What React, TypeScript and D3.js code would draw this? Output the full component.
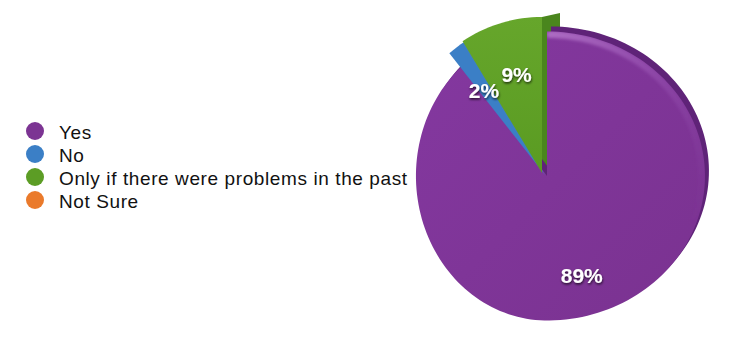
import React from 'react';
import * as d3 from 'd3';

// Survey answers and their shares (percent)
const categories = ['Yes', 'No', 'Only if there were problems in the past', 'Not Sure'];
const shares = [89, 2, 9, 0];
const shareLabels = ['89%', '2%', '9%', '0%'];

// Face and side colours per answer
const palette = ['#7c3493', '#3b7fc6', '#5c9d25', '#ea7a2b'];
const sidePalette = ['#5f2378', '#2c629c', '#4a861d', '#b85a1c'];

const W = 743;
const H = 346;
const center = { x: 546, y: 176 };
const baseR = 144.5;
const labelR = 105.5;

// Placement of each slice face: vertex shift, radius scale, horizontal squash
// left/right of the vertex (the disc is seen slightly turned), and the offset
// of its extruded back side.
const faces = [
  { dx: 1, dy: 0, rs: 1, kL: 0.907, kR: 1.093, side: [4, -5] as [number, number], wall: null as null | [number, number] },
  { dx: -1, dy: -1, rs: 1.093, kL: 0.95, kR: 1, side: null, wall: null },
  { dx: -4, dy: -3, rs: 1.08, kL: 0.95, kR: 1, side: null, wall: [18, -4] as [number, number] },
  { dx: 0, dy: 0, rs: 1, kL: 1, kR: 1, side: null, wall: null },
];

type Pt = [number, number];

function facePoint(a: number, r: number, cx: number, cy: number, kL: number, kR: number): Pt {
  const s = Math.sin(a);
  const c = Math.cos(a);
  return [cx + r * s * (s < 0 ? kL : kR), cy - r * c];
}

const line = d3.line<Pt>();

function wedge(a0: number, a1: number, i: number, shift: Pt = [0, 0]): string {
  const f = faces[i];
  const cx = center.x + f.dx + shift[0];
  const cy = center.y + f.dy + shift[1];
  const r = baseR * f.rs;
  const n = Math.max(2, Math.ceil(((a1 - a0) / (Math.PI * 2)) * 180));
  const pts: Pt[] = [[cx, cy]];
  for (let k = 0; k <= n; k++) {
    const a = a0 + ((a1 - a0) * k) / n;
    pts.push(facePoint(a, r, cx, cy, f.kL, f.kR));
  }
  return (line(pts) ?? '') + 'Z';
}

function rimArc(a0: number, a1: number, i: number, inset: number): string {
  const f = faces[i];
  const cx = center.x + f.dx;
  const cy = center.y + f.dy;
  const r = baseR * f.rs - inset;
  const pts: Pt[] = [];
  const n = 90;
  for (let k = 0; k <= n; k++) {
    const a = a0 + ((a1 - a0) * k) / n;
    pts.push(facePoint(a, r, cx, cy, f.kL, f.kR));
  }
  return line(pts) ?? '';
}

function endWall(a: number, i: number, off: Pt): string {
  const f = faces[i];
  const cx = center.x + f.dx;
  const cy = center.y + f.dy;
  const p = facePoint(a, baseR * f.rs, cx, cy, f.kL, f.kR);
  const pts: Pt[] = [
    [cx, cy],
    p,
    [p[0] + off[0], p[1] + off[1]],
    [cx + off[0], cy + off[1]],
  ];
  return (line(pts) ?? '') + 'Z';
}

export default function App() {
  const arcs = d3
    .pie<number>()
    .sort(null)
    .value((d) => d)(shares);

  const font = '"Liberation Sans", Arial, Helvetica, sans-serif';
  const legendX = 35;
  const legendY = d3.scalePoint<string>().domain(categories).range([131, 200]);

  const visible = arcs.map((a, i) => ({ a, i })).filter(({ a }) => a.endAngle - a.startAngle > 0);
  const yes = arcs[0];

  return (
    <svg
      width={W}
      height={H}
      viewBox={`0 0 ${W} ${H}`}
      style={{ position: 'absolute', left: 0, top: 0, background: '#fff' }}
    >
      <defs>
        <filter id="lblShadow" x="-30%" y="-30%" width="160%" height="180%">
          <feDropShadow dx="0.5" dy="1.5" stdDeviation="1.3" floodColor="#000" floodOpacity="0.75" />
        </filter>
        <filter id="soft" x="-10%" y="-10%" width="120%" height="120%">
          <feGaussianBlur stdDeviation="1.4" />
        </filter>
        <clipPath id="yesClip">
          <path d={wedge(yes.startAngle, yes.endAngle, 0)} />
        </clipPath>
        <linearGradient id="rimGlow" x1="0" y1="0" x2="1" y2="1">
          <stop offset="0" stopColor="#c98fdc" stopOpacity="0.6" />
          <stop offset="0.5" stopColor="#b070cc" stopOpacity="0.25" />
          <stop offset="1" stopColor="#9050b0" stopOpacity="0" />
        </linearGradient>
        <linearGradient id="greenFace" x1="0" y1="0" x2="0" y2="1">
          <stop offset="0" stopColor="#66a62b" />
          <stop offset="1" stopColor="#5a9b22" />
        </linearGradient>
        <linearGradient id="purpleFace" x1="0" y1="0" x2="1" y2="1">
          <stop offset="0" stopColor="#8438a0" />
          <stop offset="1" stopColor="#7a3290" />
        </linearGradient>
      </defs>

      {/* legend */}
      <g fontFamily={font} fontSize={19} fill="#111">
        {categories.map((c, i) => (
          <g key={c}>
            <circle cx={legendX} cy={legendY(c)} r={9} fill={palette[i]} />
            <text x={59} y={(legendY(c) ?? 0) + 7.5} letterSpacing={0.6}>
              {c}
            </text>
          </g>
        ))}
      </g>

      {/* extruded walls behind the faces */}
      {visible.map(({ a, i }) =>
        faces[i].wall ? (
          <path key={'wall' + i} d={endWall(a.endAngle, i, faces[i].wall as Pt)} fill={sidePalette[i]} />
        ) : null
      )}
      {visible.map(({ a, i }) =>
        faces[i].side ? (
          <path key={'side' + i} d={wedge(a.startAngle, a.endAngle, i, faces[i].side as Pt)} fill={sidePalette[i]} />
        ) : null
      )}

      {/* slice faces */}
      {visible.map(({ a, i }) => (
        <path
          key={'face' + i}
          d={wedge(a.startAngle, a.endAngle, i)}
          fill={i === 0 ? 'url(#purpleFace)' : i === 2 ? 'url(#greenFace)' : palette[i]}
        />
      ))}

      {/* soft highlight along the upper-right rim of the large slice */}
      <g clipPath="url(#yesClip)">
        <path
          d={rimArc(yes.startAngle + 0.02, yes.startAngle + 1.9, 0, 3)}
          fill="none"
          stroke="url(#rimGlow)"
          strokeWidth={7}
          strokeLinecap="round"
          filter="url(#soft)"
        />
      </g>

      {/* value labels */}
      <g fontFamily={font} fontWeight="bold" fontSize={21} fill="#fff" textAnchor="middle">
        {visible.map(({ a, i }) => {
          const mid = (a.startAngle + a.endAngle) / 2;
          const x = center.x + labelR * Math.sin(mid);
          const y = center.y - labelR * Math.cos(mid);
          return (
            <text key={'lbl' + i} x={x} y={y} dy="0.36em" filter="url(#lblShadow)">
              {shareLabels[i]}
            </text>
          );
        })}
      </g>
    </svg>
  );
}
